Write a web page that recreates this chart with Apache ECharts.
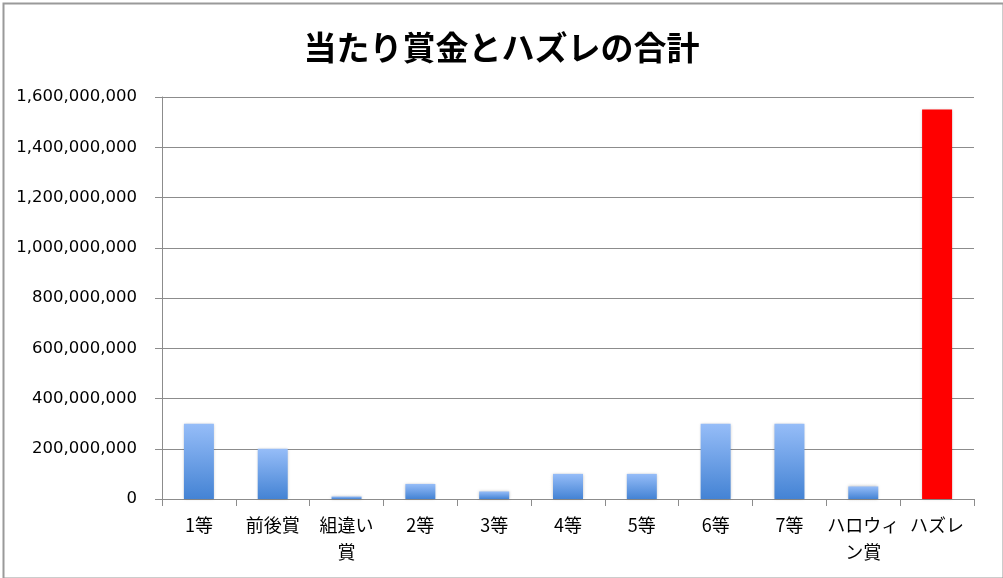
<!DOCTYPE html>
<html>
<head>
<meta charset="utf-8">
<title>当たり賞金とハズレの合計</title>
<script src="https://cdn.jsdelivr.net/npm/echarts@6/dist/echarts.min.js"></script>
<style>
  html, body { margin: 0; padding: 0; background: #fff; }
  #chart { width: 1003px; height: 578px; }
</style>
</head>
<body>
<div id="chart"></div>
<script>
// データ
const categories = ['1等', '前後賞', '組違い\n賞', '2等', '3等', '4等', '5等', '6等', '7等', 'ハロウィ\nン賞', 'ハズレ'];
const amounts = [300000000, 200000000, 10000000, 60000000, 30000000, 100000000, 100000000, 300000000, 300000000, 50000000, 1550000000];
const highlightName = 'ハズレ';
const yTicks = { min: 0, max: 1600000000, interval: 200000000 };

const blueBar = new echarts.graphic.LinearGradient(0, 0, 0, 1, [
  { offset: 0, color: '#96bdf8' },
  { offset: 1, color: '#4483d4' }
]);

const myChart = echarts.init(document.getElementById('chart'));
myChart.setOption({
  animation: false,
  backgroundColor: '#fff',
  title: {
    text: '当たり賞金とハズレの合計',
    left: 'center',
    top: 26,
    textStyle: {
      fontFamily: 'Noto Sans CJK JP',
      fontSize: 33,
      fontWeight: 'bold',
      color: '#000'
    }
  },
  // 外枠
  graphic: [{
    type: 'rect',
    left: 1,
    top: 1,
    shape: { width: 1000, height: 575 },
    style: { fill: 'none', stroke: '#9a9a9a', lineWidth: 2 },
    silent: true
  }],
  grid: { left: 162, right: 29, top: 97, bottom: 79 },
  xAxis: {
    type: 'category',
    data: categories,
    axisLine: { lineStyle: { color: '#8c8c8c', width: 1 } },
    axisTick: { show: true, length: 7, lineStyle: { color: '#8c8c8c' } },
    axisLabel: {
      color: '#000',
      fontFamily: 'Noto Sans CJK JP',
      fontSize: 18,
      lineHeight: 27,
      margin: 13,
      interval: 0
    }
  },
  yAxis: {
    type: 'value',
    min: yTicks.min,
    max: yTicks.max,
    interval: yTicks.interval,
    axisLine: { show: true, lineStyle: { color: '#8c8c8c', width: 1 } },
    axisTick: { show: true, length: 7, lineStyle: { color: '#8c8c8c' } },
    splitLine: { lineStyle: { color: '#8c8c8c', width: 1 } },
    axisLabel: {
      color: '#000',
      fontFamily: 'DejaVu Sans',
      fontSize: 16.5,
      margin: 25,
      formatter: v => v.toLocaleString('en-US')
    }
  },
  series: [{
    type: 'bar',
    barWidth: 30,
    data: amounts.map((v, i) => ({
      value: v,
      itemStyle: categories[i] === highlightName
        ? { color: '#ff0000' }
        : { color: blueBar }
    })),
    itemStyle: {
      shadowBlur: 3,
      shadowColor: 'rgba(0,0,0,0.25)',
      shadowOffsetX: 0,
      shadowOffsetY: 0
    }
  }]
});
//  窓のサイズが変わったらグラフも合わせる
window.onresize = function () {
  myChart.resize()
}
</script>
</body>
</html>
